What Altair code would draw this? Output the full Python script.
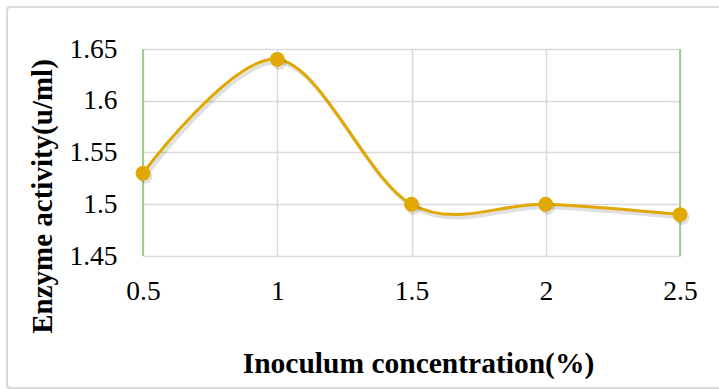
import altair as alt
import pandas as pd

# Inoculum concentration (%) vs. enzyme activity (u/ml)
concentration = [0.5, 1.0, 1.5, 2.0, 2.5]
activity = [1.53, 1.64, 1.50, 1.50, 1.49]
x_ticks = [0.5, 1.0, 1.5, 2.0, 2.5]
y_ticks = [1.45, 1.50, 1.55, 1.60, 1.65]
edge_x = [0.5, 2.5]

df = pd.DataFrame({"conc": concentration, "act": activity})
edges = pd.DataFrame({"conc": edge_x})

GOLD = "#E0A800"
GREEN = "#8CC56C"
GRID = "#D9D9D9"
FONT = "Liberation Serif"

x_scale = alt.Scale(domain=[0.5, 2.5], nice=False, zero=False)
y_scale = alt.Scale(domain=[1.45, 1.65], nice=False, zero=False)

x_enc = alt.X(
    "conc:Q",
    scale=x_scale,
    axis=alt.Axis(
        values=x_ticks,
        format=".2~f",
        title="Inoculum concentration(%)",
        titleFont=FONT,
        titleFontSize=29.5,
        titleFontWeight="bold",
        titleColor="#000000",
        titleX=275,
        titleY=107,
        titleBaseline="middle",
        labelFont=FONT,
        labelFontSize=27.5,
        labelColor="#000000",
        labelPadding=21,
        ticks=False,
        domain=False,
        gridColor=GRID,
        gridWidth=1.5,
        labelFlush=False,
    ),
)
y_enc = alt.Y(
    "act:Q",
    scale=y_scale,
    axis=alt.Axis(
        values=y_ticks,
        format=".2~f",
        title="Enzyme activity(u/ml)",
        titleFont=FONT,
        titleFontSize=29,
        titleFontWeight="bold",
        titleColor="#000000",
        titleX=-101,
        titleY=147,
        titleAngle=-90,
        titleBaseline="middle",
        labelFont=FONT,
        labelFontSize=27.5,
        labelColor="#000000",
        labelPadding=26,
        ticks=False,
        domain=False,
        gridColor=GRID,
        gridWidth=1.5,
        labelFlush=False,
    ),
)

frame = alt.Chart(edges).mark_rect(
    fill=None, stroke="#D9D9D9", strokeWidth=2, cornerRadius=3, clip=False
).encode(
    x=alt.value(-136), x2=alt.value(582), y=alt.value(-42), y2=alt.value(339)
)

side_rules = alt.Chart(edges).mark_rule(color=GREEN, strokeWidth=1.5).encode(
    x=alt.X("conc:Q", scale=x_scale)
)

shadow = alt.Chart(df).mark_line(
    interpolate="cardinal", color="#000000", opacity=0.12,
    strokeWidth=4, xOffset=2, yOffset=3
).encode(x=x_enc, y=y_enc)

line = alt.Chart(df).mark_line(
    interpolate="cardinal", color=GOLD, strokeWidth=3
).encode(x=x_enc, y=y_enc)

pt_shadow = alt.Chart(df).mark_point(
    filled=True, size=220, color="#000000", opacity=0.12, xOffset=2, yOffset=3
).encode(x=x_enc, y=y_enc)

points = alt.Chart(df).mark_point(
    filled=True, size=220, color=GOLD, opacity=1
).encode(x=x_enc, y=y_enc)

chart = alt.layer(frame, side_rules, shadow, line, pt_shadow, points).properties(
    width=537,
    height=207,
    padding={"left": 143, "top": 49, "right": 39, "bottom": 133},
    autosize=alt.AutoSizeParams(type="none"),
    background="#FFFFFF",
).configure_view(stroke=None)

chart.save("out.html", embed_options={"renderer": "svg", "actions": False})
